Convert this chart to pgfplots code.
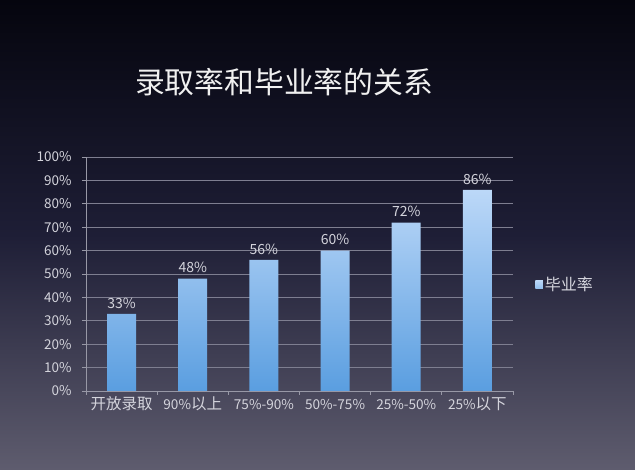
\documentclass[border=0pt]{standalone}
\usepackage{pgfplots}
\pgfplotsset{compat=1.18}
\usepackage{fontspec}
\setmainfont{Noto Sans CJK SC}
\definecolor{bgtop}{HTML}{05050E}
\definecolor{bgmid}{HTML}{1E1E36}
\definecolor{bgbot}{HTML}{5E5C6E}
\definecolor{bartop}{HTML}{BCD8F8}
\definecolor{barbot}{HTML}{5A9EE0}
\definecolor{gridc}{HTML}{7E7E90}
\definecolor{txt}{HTML}{D4D4DC}
\newcommand{\Lt}[1]{{\fontsize{13.6}{16}\selectfont #1}}
\newcommand{\Ct}[1]{{\fontsize{15.5}{16}\selectfont #1}}
\begin{document}
\begin{tikzpicture}
\shade[top color=bgtop, bottom color=bgbot, middle color=bgmid] (0pt,0pt) rectangle (635pt,469pt);
\path[use as bounding box] (0pt,0pt) rectangle (635pt,469pt);
\node[text=white!94!black, font=\fontsize{29.8}{32}\selectfont, anchor=center] at (284pt,387pt) {录取率和毕业率的关系};
\begin{axis}[
  at={(86pt,78pt)}, anchor=south west,
  scale only axis, width=427pt, height=234pt,
  ybar, bar width=29pt,
  xmin=-0.5, xmax=5.5, ymin=0, ymax=100,
  axis lines*=left,
  axis line style={-, draw=gridc!80!white, line width=0.8pt},
  ymajorgrids, grid style={draw=gridc, line width=0.7pt},
  ytick={0,10,...,100},
  yticklabel={\pgfmathprintnumber{\tick}\%},
  /pgf/number format/assume math mode=true,
  xtick={0,...,5},
  xticklabels={\Ct{开放录取},\Lt{90\%}\Ct{以上},\Lt{75\%-90\%},\Lt{50\%-75\%},\Lt{25\%-50\%},\Lt{25\%}\Ct{以下}},
  minor xtick={-0.5,0.5,...,5.5},
  major x tick style={draw=none},
  minor tick length=4pt,
  major tick length=4pt,
  tick style={draw=gridc!80!white, line width=0.7pt},
  tick align=outside,
  ticklabel style={text=txt},
  yticklabel style={font=\fontsize{13.5}{14}\selectfont, xshift=-7pt},
  xticklabel style={text height=11pt, text depth=3pt, yshift=0pt},
  nodes near coords={\pgfmathprintnumber{\pgfplotspointmeta}\%},
  nodes near coords style={text=txt, font=\fontsize{14}{15}\selectfont, yshift=2pt, /pgf/number format/assume math mode=true},
  legend style={at={(1.045,0.455)}, anchor=west, draw=none, fill=none, text=txt, font=\fontsize{16}{17}\selectfont},
  legend image code/.code={\fill[top color=bartop, bottom color=bartop!60!barbot] (0pt,-3.5pt) rectangle (7.5pt,4pt);},
]
\addplot[draw=none, top color=bartop, bottom color=barbot] coordinates {(0,33) (1,48) (2,56) (3,60) (4,72) (5,86)};
\addlegendentry{毕业率}
\end{axis}
\end{tikzpicture}
\end{document}
